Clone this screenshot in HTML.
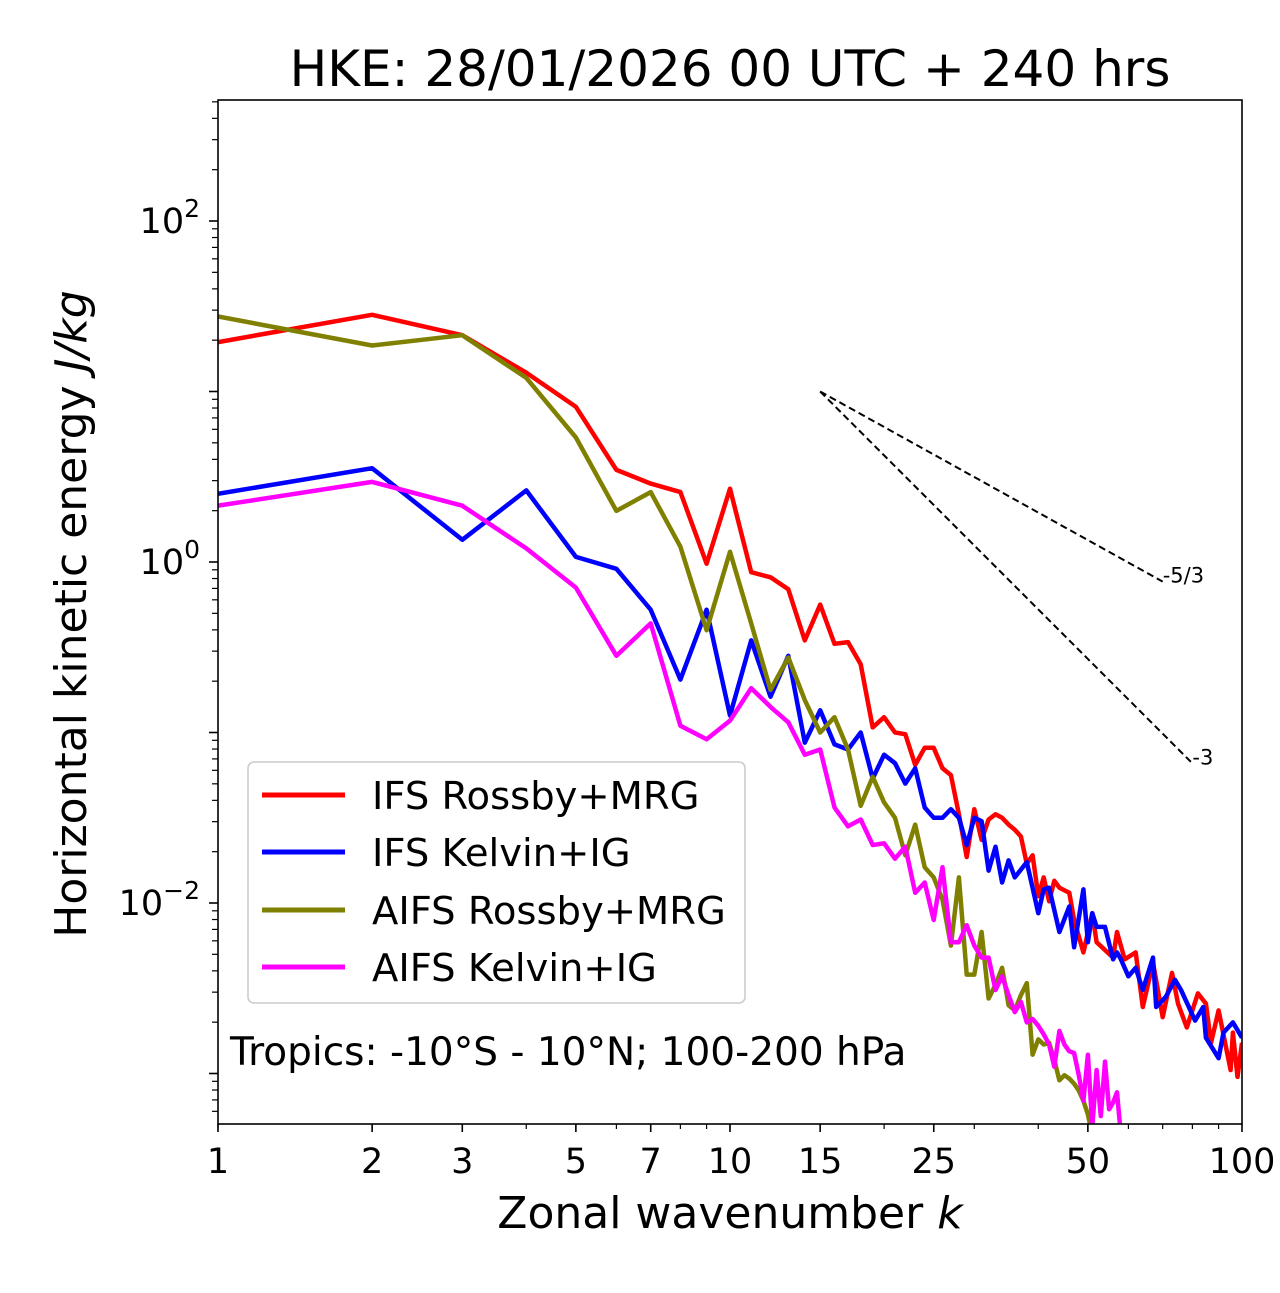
<!DOCTYPE html>
<html><head><meta charset="utf-8"><style>
body{margin:0;background:#fff;}
svg text{font-family:"DejaVu Sans","Liberation Sans",sans-serif;}
</style></head><body>
<svg id="chart" width="1280" height="1288" xmlns="http://www.w3.org/2000/svg">
<defs><clipPath id="plotclip"><rect x="218" y="100" width="1024" height="1024"/></clipPath></defs>
<rect width="1280" height="1288" fill="#fff"/>
<text x="730" y="86" font-size="50" text-anchor="middle">HKE: 28/01/2026 00 UTC + 240 hrs</text>
<g id="ticks"></g>
<g id="series" clip-path="url(#plotclip)"></g>
<g id="refs"></g>
<rect x="218" y="100" width="1024" height="1024" fill="none" stroke="#000" stroke-width="1.6"/>
<text x="730" y="1228" font-size="44" text-anchor="middle">Zonal wavenumber <tspan font-style="italic">k</tspan></text>
<text transform="translate(86,614) rotate(-90)" font-size="44" text-anchor="middle">Horizontal kinetic energy <tspan font-style="italic">J/kg</tspan></text>
<g>
<rect x="248" y="762" width="497" height="241" rx="6" fill="#fff" fill-opacity="0.8" stroke="#ccc" stroke-width="1.6"/>
<line x1="262" y1="795" x2="345" y2="795" stroke="#ff0000" stroke-width="5"/>
<text x="372" y="809" font-size="38.5">IFS Rossby+MRG</text>
<line x1="262" y1="852" x2="345" y2="852" stroke="#0000ff" stroke-width="5"/>
<text x="372" y="866" font-size="38.5">IFS Kelvin+IG</text>
<line x1="262" y1="910" x2="345" y2="910" stroke="#808000" stroke-width="5"/>
<text x="372" y="924" font-size="38.5">AIFS Rossby+MRG</text>
<line x1="262" y1="967" x2="345" y2="967" stroke="#ff00ff" stroke-width="5"/>
<text x="372" y="981" font-size="38.5">AIFS Kelvin+IG</text>
</g>
<text x="230" y="1065" font-size="39">Tropics: -10°S - 10°N; 100-200 hPa</text>
</svg>
<script>
const xTickValues=[1,2,3,5,7,10,15,25,50,100];
const yMajorExps=[-3,-2,-1,0,1,2];
const yLabelExps=[-2,0,2];
const redK=[1,2,3,4,5,6,7,8,9,10,11,12,13,14,15,16,17,18,19,20,21,22,23,24,25,26,27,28,29,30,31,32,33,34,35,36,37,38,39,40,41,42,43,44,46,47,49,51,52,56,57,59,62,64,67,70,73,75,78,82,85,87,90,95,96,98,100];
const redLogE=[1.29,1.45,1.33,1.11,0.91,0.54,0.46,0.41,-0.01,0.43,-0.06,-0.09,-0.16,-0.46,-0.25,-0.48,-0.47,-0.60,-0.97,-0.91,-1.00,-1.01,-1.19,-1.09,-1.09,-1.21,-1.25,-1.48,-1.73,-1.45,-1.63,-1.51,-1.48,-1.50,-1.54,-1.57,-1.61,-1.77,-1.72,-1.96,-1.85,-1.99,-1.87,-1.91,-1.94,-2.10,-2.29,-2.06,-2.23,-2.32,-2.17,-2.33,-2.29,-2.61,-2.35,-2.67,-2.41,-2.59,-2.73,-2.53,-2.59,-2.82,-2.63,-2.98,-2.76,-3.02,-2.82];
const blueK=[1,2,3,4,5,6,7,8,9,10,11,12,13,14,15,16,17,18,19,20,21,22,23,24,25,26,27,28,29,30,31,32,33,34,35,36,38,40,41,42,44,46,47,49,50,51,52,54,56,57,58,60,62,64,67,68,71,74,76,81,84,85,90,92,96,100];
const blueLogE=[0.40,0.55,0.13,0.42,0.03,-0.04,-0.28,-0.69,-0.28,-0.90,-0.46,-0.79,-0.55,-1.06,-0.87,-1.07,-1.10,-1.00,-1.27,-1.13,-1.18,-1.30,-1.21,-1.44,-1.50,-1.50,-1.45,-1.50,-1.66,-1.50,-1.52,-1.81,-1.67,-1.88,-1.75,-1.85,-1.76,-2.06,-1.92,-1.91,-2.17,-2.02,-2.26,-1.92,-2.23,-2.06,-2.14,-2.14,-2.33,-2.29,-2.33,-2.43,-2.38,-2.51,-2.32,-2.61,-2.55,-2.45,-2.51,-2.69,-2.61,-2.79,-2.91,-2.76,-2.70,-2.79];
const oliveK=[1,2,3,4,5,6,7,8,9,10,11,12,13,14,15,16,17,18,19,20,21,22,23,24,25,26,27,28,29,30,31,32,33,34,35,36,37,38,39,40,41,42,43,44,45,46,47,48,49,50,51,52];
const oliveLogE=[1.44,1.27,1.33,1.08,0.73,0.30,0.41,0.09,-0.40,0.06,-0.36,-0.75,-0.56,-0.81,-1.00,-0.91,-1.10,-1.43,-1.26,-1.41,-1.50,-1.72,-1.54,-1.79,-1.85,-1.98,-2.25,-1.85,-2.42,-2.42,-2.17,-2.56,-2.48,-2.38,-2.60,-2.63,-2.54,-2.47,-2.89,-2.80,-2.83,-2.82,-2.92,-3.04,-3.01,-3.03,-3.06,-3.10,-3.16,-3.24,-3.36,-3.45];
const magentaK=[1,2,3,4,5,6,7,8,9,10,11,12,13,14,15,16,17,18,19,20,21,22,23,24,25,26,27,28,29,30,31,32,33,34,35,36,37,38,39,40,41,42,43,44,45,46,47,48,49,50,51,52,53,54,55,56,57,58];
const magentaLogE=[0.33,0.47,0.33,0.08,-0.15,-0.55,-0.36,-0.96,-1.04,-0.93,-0.74,-0.85,-0.94,-1.13,-1.10,-1.44,-1.55,-1.51,-1.66,-1.65,-1.74,-1.67,-1.94,-1.88,-2.10,-1.79,-2.23,-2.23,-2.13,-2.25,-2.32,-2.32,-2.51,-2.43,-2.54,-2.64,-2.58,-2.70,-2.68,-2.72,-2.77,-2.83,-2.96,-2.75,-2.83,-2.87,-2.88,-3.01,-3.16,-2.89,-3.31,-2.98,-3.25,-2.93,-3.21,-3.17,-3.11,-3.36];
const refStartK=[15];
const refStartE=[10];
const refSlopes=[-5/3,-3];
const refEndK=[70,80];
const refLabels=["-5/3","-3"];

const NS="http://www.w3.org/2000/svg";
const X0=218,XPD=512,Y0=562,YPD=170.5;
function xs(k){return X0+XPD*Math.log10(k);}
function ysLog(l){return Y0-YPD*l;}
function mk(tag,attrs,parent){const e=document.createElementNS(NS,tag);for(const a in attrs)e.setAttribute(a,attrs[a]);parent.appendChild(e);return e;}
const ticks=document.getElementById('ticks');
for(let d=1;d<=10;d*=10){for(let m=1;m<10;m++){const v=m*d;if(v>100)continue;const x=xs(v);
const t=mk('line',{x1:x,y1:1124,x2:x,y2:1129,stroke:'#000','stroke-width':1.2},ticks);

}}
xTickValues.forEach(v=>{const x=xs(v);
const t=mk('line',{x1:x,y1:1124,x2:x,y2:1132,stroke:'#000','stroke-width':1.6},ticks);


const l=mk('text',{x:x,y:1173,'font-size':35,'text-anchor':'middle'},ticks);l.textContent=String(v);

});
for(let e=-4;e<=2;e++){for(let m=2;m<10;m++){const y=ysLog(e+Math.log10(m));if(y<100||y>1124)continue;
const t=mk('line',{x1:212,y1:y,x2:218,y2:y,stroke:'#000','stroke-width':1.2},ticks);

}}
yMajorExps.forEach(e=>{const y=ysLog(e);
const t=mk('line',{x1:209,y1:y,x2:218,y2:y,stroke:'#000','stroke-width':1.6},ticks);

});
yLabelExps.forEach(e=>{const y=ysLog(e);
const l=mk('text',{x:200,y:y+12,'font-size':35,'text-anchor':'end'},ticks);
l.textContent='10';
const s=mk('tspan',{dy:-16,'font-size':25},l);s.textContent=(e<0?'\u2212':'')+Math.abs(e);

});
const sg=document.getElementById('series');
const defs=[[redK,redLogE,'#ff0000','ifs-rossby-mrg-line'],[blueK,blueLogE,'#0000ff','ifs-kelvin-ig-line'],[oliveK,oliveLogE,'#808000','aifs-rossby-mrg-line'],[magentaK,magentaLogE,'#ff00ff','aifs-kelvin-ig-line']];
defs.forEach(d=>{const pts=d[0].map((k,i)=>xs(k).toFixed(1)+','+ysLog(d[1][i]).toFixed(1)).join(' ');
const p=mk('polyline',{points:pts,fill:'none',stroke:d[2],'stroke-width':4.5,'stroke-linejoin':'round'},sg);

});
const rg=document.getElementById('refs');
refSlopes.forEach((s,i)=>{const k0=refStartK[0],l0=Math.log10(refStartE[0]),k1=refEndK[i];
const l1=l0+s*Math.log10(k1/k0);
const ln=mk('line',{x1:xs(k0),y1:ysLog(l0),x2:xs(k1),y2:ysLog(l1),stroke:'#000','stroke-width':2,'stroke-dasharray':'7,4'},rg);


const t=mk('text',{x:xs(k1),y:ysLog(l1)+1,'font-size':21},rg);t.textContent=refLabels[i];

});
</script>
</body></html>
